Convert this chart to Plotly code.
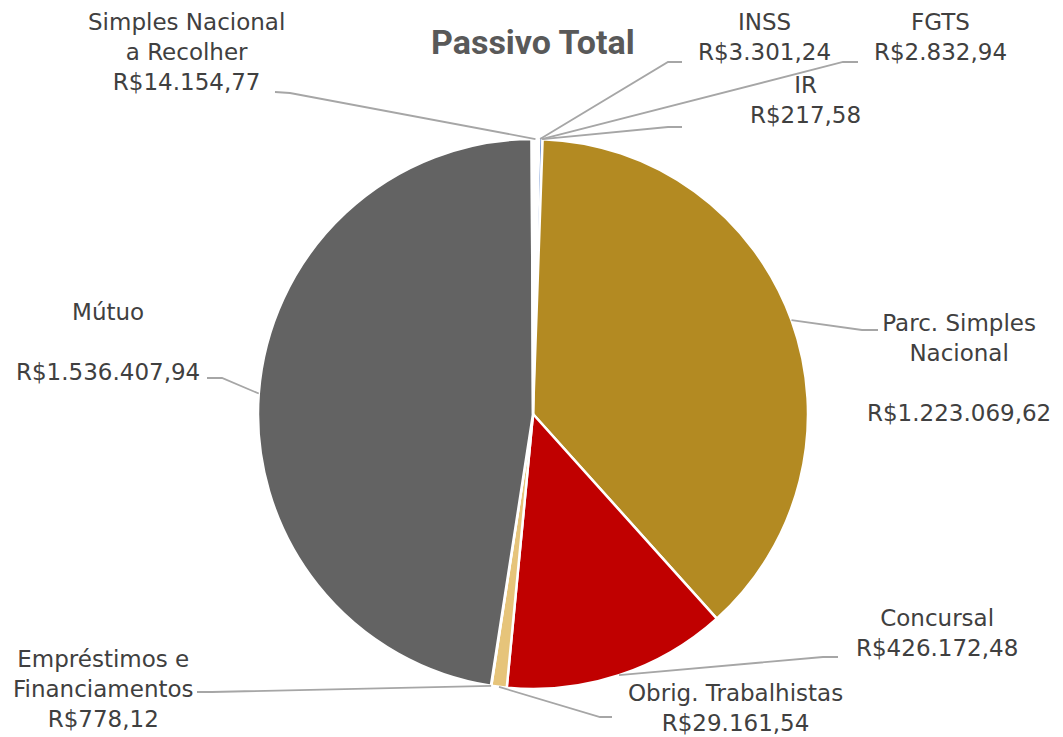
import math
import plotly.graph_objects as go

# ---- data ----
categories = ["INSS", "FGTS", "IR", "Parc. Simples Nacional", "Concursal",
              "Obrig. Trabalhistas", "Empréstimos e Financiamentos", "Mútuo",
              "Simples Nacional a Recolher"]
values = [3301.24, 2832.94, 217.58, 1223069.62, 426172.48,
          29161.54, 778.12, 1536407.94, 14154.77]
label_texts = ["INSS<br>R$3.301,24", "FGTS<br>R$2.832,94", "IR<br>R$217,58",
               "Parc. Simples<br>Nacional<br><br>R$1.223.069,62",
               "Concursal<br>R$426.172,48",
               "Obrig. Trabalhistas<br>R$29.161,54",
               "Empréstimos e<br>Financiamentos<br>R$778,12",
               "Mútuo<br><br>R$1.536.407,94",
               "Simples Nacional<br>a Recolher<br>R$14.154,77"]
colors = ["#4472C4", "#FFFFFF", "#FFFFFF", "#B38A22", "#C00000",
          "#E6C47A", "#FFFFFF", "#636363", "#FFFFFF"]
border_colors = ["#FFFFFF", "#4472C4", "#FFFFFF", "#FFFFFF", "#FFFFFF",
                 "#FFFFFF", "#FFFFFF", "#FFFFFF", "#FFFFFF"]

# ---- layout constants (pixels) ----
W, H = 1063, 737
CX, CY, R = 533, 414, 275
ROT = 1.3
# label block centre, leader elbow, leader end (near label)
label_pos = [(764, 37), (940, 37), (805, 100), (959, 368), (937, 633),
             (735, 708), (103, 689), (108, 342), (186, 52)]
leader_ends = [((668, 62), (682, 62)), ((843, 62), (858, 62)), ((668, 127), (682, 127)),
               ((862, 330), (878, 330)), ((823, 657), (838, 657)),
               ((600, 717), (612, 717)), ((212, 692), (197, 692)),
               ((222, 378), (207, 378)), ((290, 93), (275, 92))]

def px(x):
    return x / W

def py(y):
    return 1 - y / H

fig = go.Figure(go.Pie(
    labels=categories, values=values, sort=False, direction="clockwise",
    rotation=ROT, textinfo="none", hoverinfo="label+value",
    marker=dict(colors=colors, line=dict(color=border_colors, width=2.5)),
    domain=dict(x=[px(CX - R), px(CX + R)], y=[py(CY + R), py(CY - R)]),
    showlegend=False,
))

total = sum(values)
cum = 0.0
shapes = []
annotations = []
font = dict(family="DejaVu Sans", size=23, color="#404040")
for v, txt, (lx, ly), (elbow, end) in zip(values, label_texts, label_pos, leader_ends):
    mid = (cum + v / 2) / total * 2 * math.pi + math.radians(ROT)
    cum += v
    sx = CX + R * math.sin(mid)
    sy = CY - R * math.cos(mid)
    path = f"M {px(sx)} {py(sy)} L {px(elbow[0])} {py(elbow[1])} L {px(end[0])} {py(end[1])}"
    shapes.append(dict(type="path", xref="paper", yref="paper", path=path,
                       line=dict(color="#A6A6A6", width=1.8)))
    annotations.append(dict(x=px(lx), y=py(ly), xref="paper", yref="paper",
                            text=txt, showarrow=False, font=font,
                            xanchor="center", yanchor="middle", align="center"))

annotations.append(dict(x=px(533), y=py(42), xref="paper", yref="paper",
                        text="<b>Passivo Total</b>", showarrow=False,
                        font=dict(family="Roboto", size=34, color="#595959"),
                        xanchor="center", yanchor="middle"))

fig.update_layout(width=W, height=H, margin=dict(l=0, r=0, t=0, b=0),
                  paper_bgcolor="white", plot_bgcolor="white",
                  shapes=shapes, annotations=annotations)
fig.write_html("out.html", config={"displayModeBar": False},
               post_script="document.body.style.margin='0';document.body.style.padding='0';")
